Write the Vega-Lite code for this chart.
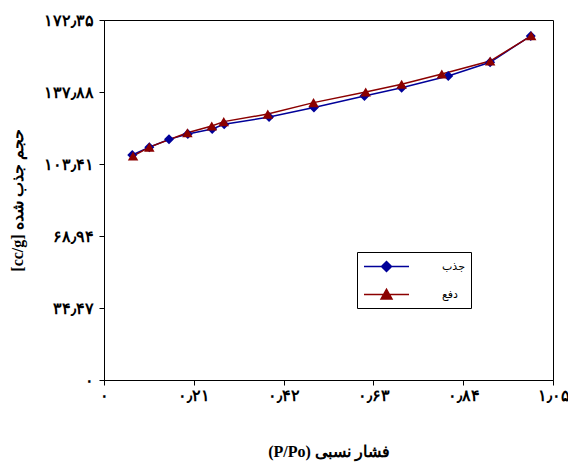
{
  "$schema": "https://vega.github.io/schema/vega-lite/v6.json",
  "width": 449,
  "height": 360,
  "autosize": {"type": "none"},
  "padding": {"left": 104, "top": 20, "right": 15, "bottom": 86},
  "background": "white",
  "config": {
    "view": {"stroke": "black", "strokeWidth": 1},
    "axis": {"grid": false, "domainColor": "black", "tickColor": "black", "labelColor": "black", "titleColor": "black", "labelFont": "Liberation Serif", "titleFont": "Liberation Serif", "labelFontWeight": "bold", "titleFontWeight": "bold", "labelFontSize": 16, "titleFontSize": 16, "tickSize": 5},
    "legend": {
      "title": null,
      "orient": "none",
      "legendX": 253,
      "legendY": 232,
      "strokeColor": "black",
      "fillColor": "white",
      "padding": 6,
      "symbolSize": 225,
      "symbolStrokeWidth": 1.5,
      "labelOffset": 62,
      "labelFont": "DejaVu Sans",
      "labelFontSize": 11,
      "labelColor": "black",
      "rowPadding": 11
    }
  },
  "data": {
    "values": [
      {"series": "جذب", "x": 0.066, "y": 107.7},
      {"series": "جذب", "x": 0.106, "y": 111.4},
      {"series": "جذب", "x": 0.152, "y": 115.2},
      {"series": "جذب", "x": 0.196, "y": 117.8},
      {"series": "جذب", "x": 0.253, "y": 120.2},
      {"series": "جذب", "x": 0.281, "y": 122.4},
      {"series": "جذب", "x": 0.386, "y": 125.9},
      {"series": "جذب", "x": 0.491, "y": 130.5},
      {"series": "جذب", "x": 0.609, "y": 136.0},
      {"series": "جذب", "x": 0.696, "y": 139.9},
      {"series": "جذب", "x": 0.805, "y": 145.5},
      {"series": "جذب", "x": 0.903, "y": 152.1},
      {"series": "جذب", "x": 0.998, "y": 164.7},
      {"series": "دفع", "x": 0.068, "y": 107.2},
      {"series": "دفع", "x": 0.106, "y": 111.5},
      {"series": "دفع", "x": 0.195, "y": 118.4},
      {"series": "دفع", "x": 0.252, "y": 121.6},
      {"series": "دفع", "x": 0.280, "y": 123.7},
      {"series": "دفع", "x": 0.383, "y": 127.3},
      {"series": "دفع", "x": 0.490, "y": 132.8},
      {"series": "دفع", "x": 0.612, "y": 137.9},
      {"series": "دفع", "x": 0.696, "y": 141.6},
      {"series": "دفع", "x": 0.790, "y": 146.5},
      {"series": "دفع", "x": 0.903, "y": 152.7},
      {"series": "دفع", "x": 0.999, "y": 164.8}
    ]
  },
  "encoding": {
    "x": {
      "field": "x", "type": "quantitative",
      "scale": {"domain": [0, 1.05], "nice": false, "zero": false},
      "axis": {
        "title": "(P/Po) فشار نسبی",
        "values": [0, 0.21, 0.42, 0.63, 0.84, 1.05],
        "labelExpr": "replace(replace(replace(replace(replace(replace(replace(replace(replace(replace(replace(format(datum.value, '.2~f'), '.', '٫'), /0/g, '۰'), /1/g, '۱'), /2/g, '۲'), /3/g, '۳'), /4/g, '۴'), /5/g, '۵'), /6/g, '۶'), /7/g, '۷'), /8/g, '۸'), /9/g, '۹')",
        "labelPadding": 2,
        "titlePadding": 40,
        "labelFlush": false
      }
    },
    "y": {
      "field": "y", "type": "quantitative",
      "scale": {"domain": [0, 172.35], "nice": false, "zero": false},
      "axis": {
        "title": "[cc/g] حجم جذب شده",
        "values": [0, 34.47, 68.94, 103.41, 137.88, 172.35],
        "labelExpr": "replace(replace(replace(replace(replace(replace(replace(replace(replace(replace(replace(format(datum.value, '.2~f'), '.', '٫'), /0/g, '۰'), /1/g, '۱'), /2/g, '۲'), /3/g, '۳'), /4/g, '۴'), /5/g, '۵'), /6/g, '۶'), /7/g, '۷'), /8/g, '۸'), /9/g, '۹')",
        "labelPadding": 6,
        "titlePadding": 18,
        "labelFlush": false
      }
    }
  },
  "layer": [
    {
      "mark": {"type": "line", "strokeWidth": 1.5},
      "encoding": {
        "color": {
          "field": "series", "type": "nominal",
          "scale": {"domain": ["جذب", "دفع"], "range": ["#000099", "#8B0000"]},
          "legend": {"labelExpr": "datum.label + '\u00a0\u00a0\u00a0\u00a0\u00a0\u00a0\u00a0\u00a0\u00a0'"}
        }
      }
    },
    {
      "transform": [{"filter": "datum.series === 'جذب'"}],
      "mark": {"type": "point", "filled": true, "opacity": 1, "shape": "diamond", "color": "#000099", "size": 100}
    },
    {
      "transform": [{"filter": "datum.series === 'دفع'"}],
      "mark": {"type": "point", "filled": true, "opacity": 1, "shape": "triangle-up", "color": "#8B0000", "size": 110}
    },
    {
      "transform": [{"filter": "false"}],
      "mark": {"type": "point", "filled": true, "opacity": 1},
      "encoding": {
        "color": {
          "field": "series", "type": "nominal",
          "scale": {"domain": ["جذب", "دفع"], "range": ["#000099", "#8B0000"]},
          "legend": {"labelExpr": "datum.label + '\u00a0\u00a0\u00a0\u00a0\u00a0\u00a0\u00a0\u00a0\u00a0'"}
        },
        "shape": {
          "field": "series", "type": "nominal",
          "scale": {"domain": ["جذب", "دفع"], "range": ["M-1,0L5,0M1.333,0L2,-0.667L2.667,0L2,0.667Z", "M-1,0L5,0M1.267,0.6L2,-0.7L2.733,0.6Z"]},
          "legend": {"labelExpr": "datum.label + '\u00a0\u00a0\u00a0\u00a0\u00a0\u00a0\u00a0\u00a0\u00a0'"}
        }
      }
    }
  ]
}
